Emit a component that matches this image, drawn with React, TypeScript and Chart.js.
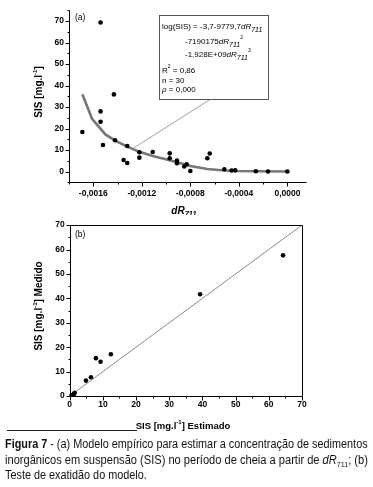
import React, { useEffect, useLayoutEffect, useRef } from "react";
import { Chart, registerables } from "chart.js";

Chart.register(...registerables);

// ---------- Data (a) ----------
const sisDrX = [-0.00169, -0.00154, -0.00154, -0.00154, -0.00152, -0.00143, -0.00142, -0.00135, -0.00132, -0.00132, -0.00122, -0.00122, -0.00111, -0.00097, -0.00097, -0.00091, -0.00091, -0.00085, -0.00083, -0.0008, -0.00066, -0.00064, -0.00052, -0.00046, -0.00043, -0.00026, -0.00016, 0.0];
const sisDrY = [18.4, 69.3, 28.0, 23.2, 12.4, 35.9, 14.6, 5.4, 11.9, 4.0, 9.0, 6.5, 9.1, 8.5, 6.2, 5.1, 3.9, 2.4, 3.4, 0.3, 6.2, 8.4, 1.1, 0.5, 0.6, 0.15, 0.1, 0.1];
const fitX = [-0.00169, -0.00161, -0.0015, -0.00142, -0.00132, -0.00122, -0.00111, -0.00097, -0.00085, -0.0008, -0.00066, -0.00052, -0.00043, -0.00026, 0];
const fitY = [36.0, 24.6, 17.3, 14.4, 11.6, 9.2, 7.3, 5.3, 3.4, 2.6, 1.2, 0.5, 0.3, 0.15, 0.1];
const leaderX = -0.00127;
const leaderY = 10.9;
const xTicksA = [-0.0018, -0.0016, -0.0014, -0.0012, -0.001, -0.0008, -0.0006, -0.0004, -0.0002, 0];
const xMajorA = [-0.0016, -0.0012, -0.0008, -0.0004, 0];
const xLabelsA = ["-0,0016", "-0,0012", "-0,0008", "-0,0004", "0,0000"];
const yTicksA = [-5, 0, 5, 10, 15, 20, 25, 30, 35, 40, 45, 50, 55, 60, 65, 70, 75];
const yMajorA = [0, 10, 20, 30, 40, 50, 60, 70];

// ---------- Data (b) ----------
const estX = [64.3, 39.3, 12.4, 7.9, 9.3, 6.4, 4.9, 1.5, 1.3, 1.1, 0.8, 0.6, 0.4, 0.2];
const medY = [57.6, 41.7, 17.1, 15.5, 14.0, 7.7, 6.3, 1.3, 0.9, 0.6, 0.4, 0.3, 0.2, 0.1];
const oneToOneX = [0, 70];
const oneToOneY = [0, 70];
const ticksB = [0, 5, 10, 15, 20, 25, 30, 35, 40, 45, 50, 55, 60, 65, 70];
const majorB = [0, 10, 20, 30, 40, 50, 60, 70];

const FONT = '"Liberation Sans", Arial, sans-serif';
const near = (a: number, b: number) => Math.abs(a - b) < 1e-9;

type Part = { t: string; f: string; dy?: number };
function drawRich(ctx: CanvasRenderingContext2D, parts: Part[], cx: number, cy: number, rot = false) {
  ctx.save();
  ctx.translate(cx, cy);
  if (rot) ctx.rotate(-Math.PI / 2);
  ctx.textBaseline = "middle";
  ctx.textAlign = "left";
  ctx.fillStyle = "#000";
  let w = 0;
  parts.forEach((p) => {
    ctx.font = p.f;
    w += ctx.measureText(p.t).width;
  });
  let x = -w / 2;
  parts.forEach((p) => {
    ctx.font = p.f;
    ctx.fillText(p.t, x, p.dy || 0);
    x += ctx.measureText(p.t).width;
  });
  ctx.restore();
}

function makeAxisPlugin(opts: {
  box: boolean;
  xMajor: number[];
  yMajor: number[];
  xTitle: Part[];
  yTitle: Part[];
  xTitlePos: [number, number];
  yTitlePos: [number, number];
  leader?: { from: [number, number]; to: [number, number] };
}) {
  return {
    id: "customAxes",
    afterDraw(chart: any) {
      const { ctx, chartArea: ca, scales } = chart;
      const xs = scales.x;
      const ys = scales.y;
      ctx.save();
      ctx.strokeStyle = "#000";
      ctx.lineWidth = 1;
      const L = Math.round(ca.left) + 0.5;
      const B = Math.round(ca.bottom) + 0.5;
      const R = Math.round(ca.right) + 0.5;
      const T = Math.round(ca.top) + 0.5;
      ctx.beginPath();
      if (opts.box) {
        ctx.rect(L, T, R - L, B - T);
      } else {
        ctx.moveTo(L, T);
        ctx.lineTo(L, B);
        ctx.lineTo(R, B);
      }
      ctx.stroke();
      ctx.beginPath();
      xs.ticks.forEach((t: any) => {
        const px = Math.round(xs.getPixelForValue(t.value)) + 0.5;
        const major = opts.xMajor.some((m) => near(m, t.value));
        ctx.moveTo(px, B);
        ctx.lineTo(px, B + (major ? 4 : 2));
      });
      ys.ticks.forEach((t: any) => {
        const py = Math.round(ys.getPixelForValue(t.value)) + 0.5;
        const major = opts.yMajor.some((m) => near(m, t.value));
        ctx.moveTo(L, py);
        ctx.lineTo(L - (major ? 4 : 2), py);
      });
      ctx.stroke();
      if (opts.leader) {
        ctx.strokeStyle = "#8a8a8a";
        ctx.lineWidth = 0.8;
        ctx.beginPath();
        ctx.moveTo(opts.leader.from[0], opts.leader.from[1]);
        ctx.lineTo(xs.getPixelForValue(opts.leader.to[0]), ys.getPixelForValue(opts.leader.to[1]));
        ctx.stroke();
      }
      ctx.restore();
      drawRich(ctx, opts.xTitle, opts.xTitlePos[0], opts.xTitlePos[1]);
      drawRich(ctx, opts.yTitle, opts.yTitlePos[0], opts.yTitlePos[1], true);
    },
  };
}

const tickFont = { family: FONT, size: 8.5, weight: "bold" as const };

const sisTitle = (extra: string): Part[] => [
  { t: "SIS [mg.l", f: `bold 10px ${FONT}` },
  { t: "-1", f: `bold 6px ${FONT}`, dy: -4 },
  { t: "]" + extra, f: `bold 10px ${FONT}` },
];

function ChartA() {
  const ref = useRef<HTMLCanvasElement>(null);
  useEffect(() => {
    const H = 215;
    const chart = new Chart(ref.current as HTMLCanvasElement, {
      type: "scatter",
      data: {
        datasets: [
          {
            type: "scatter",
            data: sisDrX.map((x, i) => ({ x, y: sisDrY[i] })),
            pointRadius: 2.3,
            backgroundColor: "#000",
            borderWidth: 0,
            order: 0,
          },
          {
            type: "line",
            data: fitX.map((x, i) => ({ x, y: fitY[i] })),
            borderColor: "#777777",
            borderWidth: 2.6,
            pointRadius: 0,
            tension: 0,
            fill: false,
            order: 1,
          } as any,
        ],
      },
      options: {
        responsive: false,
        animation: false,
        events: [],
        layout: { padding: { left: 0, right: 373 - 305.6, top: 10.3, bottom: 0 } },
        plugins: { legend: { display: false }, tooltip: { enabled: false } },
        scales: {
          x: {
            type: "linear",
            min: -0.0018,
            max: 0.00015,
            afterFit: (s: any) => {
              s.height = H - 182.4;
            },
            afterBuildTicks: (s: any) => {
              s.ticks = xTicksA.map((v) => ({ value: v }));
            },
            grid: { display: false, drawTicks: false },
            border: { display: false },
            ticks: {
              autoSkip: false,
              maxRotation: 0,
              color: "#000",
              font: tickFont,
              padding: 6,
              callback: (v: any) => {
                const i = xMajorA.findIndex((m) => near(m, Number(v)));
                return i >= 0 ? xLabelsA[i] : "";
              },
            },
          },
          y: {
            type: "linear",
            min: -5,
            max: 75,
            afterFit: (s: any) => {
              s.width = 69;
            },
            afterBuildTicks: (s: any) => {
              s.ticks = yTicksA.map((v) => ({ value: v }));
            },
            grid: { display: false, drawTicks: false },
            border: { display: false },
            ticks: {
              autoSkip: false,
              color: "#000",
              font: tickFont,
              padding: 5,
              callback: (v: any) => (yMajorA.some((m) => near(m, Number(v))) ? String(v) : ""),
            },
          },
        },
      },
      plugins: [
        makeAxisPlugin({
          box: false,
          xMajor: xMajorA,
          yMajor: yMajorA,
          xTitle: [
            { t: "dR", f: `italic bold 10px ${FONT}` },
            { t: "711", f: `italic bold 7.5px ${FONT}`, dy: 3 },
          ],
          yTitle: sisTitle(""),
          xTitlePos: [184, 211],
          yTitlePos: [39, 92],
          leader: { from: [210, 99.5], to: [leaderX, leaderY] },
        }),
      ],
    } as any);
    return () => chart.destroy();
  }, []);
  return <canvas ref={ref} width={373} height={215} style={{ position: "absolute", left: 0, top: 0, width: 373, height: 215 }} />;
}

function ChartB() {
  const ref = useRef<HTMLCanvasElement>(null);
  useEffect(() => {
    const H = 220;
    const chart = new Chart(ref.current as HTMLCanvasElement, {
      type: "scatter",
      data: {
        datasets: [
          {
            type: "scatter",
            data: estX.map((x, i) => ({ x, y: medY[i] })),
            pointRadius: 2.3,
            backgroundColor: "#000",
            borderWidth: 0,
            order: 0,
          },
          {
            type: "line",
            data: oneToOneX.map((x, i) => ({ x, y: oneToOneY[i] })),
            borderColor: "#8a8a8a",
            borderWidth: 1,
            pointRadius: 0,
            fill: false,
            order: 1,
          } as any,
        ],
      },
      options: {
        responsive: false,
        animation: false,
        events: [],
        layout: { padding: { left: 0, right: 373 - 302, top: 8, bottom: 0 } },
        plugins: { legend: { display: false }, tooltip: { enabled: false } },
        scales: {
          x: {
            type: "linear",
            min: 0,
            max: 70,
            afterFit: (s: any) => {
              s.height = H - 181;
            },
            afterBuildTicks: (s: any) => {
              s.ticks = ticksB.map((v) => ({ value: v }));
            },
            grid: { display: false, drawTicks: false },
            border: { display: false },
            ticks: {
              autoSkip: false,
              maxRotation: 0,
              color: "#000",
              font: tickFont,
              padding: 4,
              callback: (v: any) => (majorB.some((m) => near(m, Number(v))) ? String(v) : ""),
            },
          },
          y: {
            type: "linear",
            min: 0,
            max: 70,
            afterFit: (s: any) => {
              s.width = 69.7;
            },
            afterBuildTicks: (s: any) => {
              s.ticks = ticksB.map((v) => ({ value: v }));
            },
            grid: { display: false, drawTicks: false },
            border: { display: false },
            ticks: {
              autoSkip: false,
              color: "#000",
              font: tickFont,
              padding: 5,
              callback: (v: any) => (majorB.some((m) => near(m, Number(v))) ? String(v) : ""),
            },
          },
        },
      },
      plugins: [
        makeAxisPlugin({
          box: true,
          xMajor: majorB,
          yMajor: majorB,
          xTitle: sisTitle(" Estimado").map((p) => ({ ...p, f: p.f.replace("10px", "9.5px") })),
          yTitle: sisTitle(" Medido"),
          xTitlePos: [183, 211],
          yTitlePos: [39, 91],
        }),
      ],
    } as any);
    return () => chart.destroy();
  }, []);
  return <canvas ref={ref} width={373} height={220} style={{ position: "absolute", left: 0, top: 215, width: 373, height: 220 }} />;
}

const sub711 = <span style={{ fontStyle: "italic", fontSize: 7, position: "relative", top: 3 }}>711</span>;
const sup = (c: string) => <span style={{ fontSize: 5, position: "relative", top: -5 }}>{c}</span>;
const dR = <i>dR</i>;

function line(top: number, left: number, content: React.ReactNode) {
  return (
    <div style={{ position: "absolute", top: top - 5, left, fontSize: 8, lineHeight: "10px", whiteSpace: "nowrap" }}>
      {content}
    </div>
  );
}

function Caption() {
  const r1 = useRef<HTMLSpanElement>(null);
  const r2 = useRef<HTMLSpanElement>(null);
  const r3 = useRef<HTMLSpanElement>(null);
  useLayoutEffect(() => {
    const W = 363;
    const s1 = r1.current ? W / r1.current.offsetWidth : 1;
    const s2 = r2.current ? W / r2.current.offsetWidth : 1;
    if (r1.current) r1.current.style.transform = `scaleX(${s1})`;
    if (r2.current) r2.current.style.transform = `scaleX(${s2})`;
    if (r3.current) r3.current.style.transform = `scaleX(${Math.min(s1, s2)})`;
  }, []);
  const spanStyle: React.CSSProperties = { display: "inline-block", whiteSpace: "nowrap", transformOrigin: "0 0" };
  return (
    <div style={{ position: "absolute", left: 5, top: 437, width: 363, fontFamily: FONT, fontSize: 12.5, lineHeight: "15.5px", color: "#111" }}>
      <div style={{ height: 15.5 }}>
        <span ref={r1} style={spanStyle}>
          <b>Figura 7</b> - (a) Modelo empírico para estimar a concentração de sedimentos
        </span>
      </div>
      <div style={{ height: 15.5 }}>
        <span ref={r2} style={spanStyle}>
          inorgânicos em suspensão (SIS) no período de cheia a partir de <i>dR</i>
          <span style={{ fontSize: 8, position: "relative", top: 3 }}>711</span>; (b)
        </span>
      </div>
      <div style={{ height: 15.5 }}>
        <span ref={r3} style={spanStyle}>Teste de exatidão do modelo.</span>
      </div>
    </div>
  );
}

export default function App() {
  return (
    <div style={{ position: "fixed", left: 0, top: 0, width: 373, height: 487, background: "#fff", fontFamily: FONT, color: "#000", overflow: "hidden" }}>
      <ChartA />
      <ChartB />
      {/* panel labels */}
      <div style={{ position: "absolute", left: 75, top: 12, fontSize: 8.5, lineHeight: "10px" }}>(a)</div>
      <div style={{ position: "absolute", left: 75, top: 229, fontSize: 8.5, lineHeight: "10px" }}>(b)</div>
      {/* annotation box */}
      <div style={{ position: "absolute", left: 159, top: 15, width: 108, height: 83, border: "1px solid #555" }} />
      {line(27, 162, <>log(SIS) = -3,7-9779,7{dR}{sub711}</>)}
      {line(42, 185, <>-7190175{dR}{sub711}{sup("2")}</>)}
      {line(55, 185, <>-1,928E+09{dR}{sub711}{sup("3")}</>)}
      {line(71, 162, <>R{sup("2")} = 0,86</>)}
      {line(80.5, 162, <>n = 30</>)}
      {line(90, 162, <><i>ρ</i> = 0,000</>)}
      {/* caption rule */}
      <div style={{ position: "absolute", left: 7, top: 430, width: 130, height: 1, background: "#222" }} />
      <Caption />
    </div>
  );
}
